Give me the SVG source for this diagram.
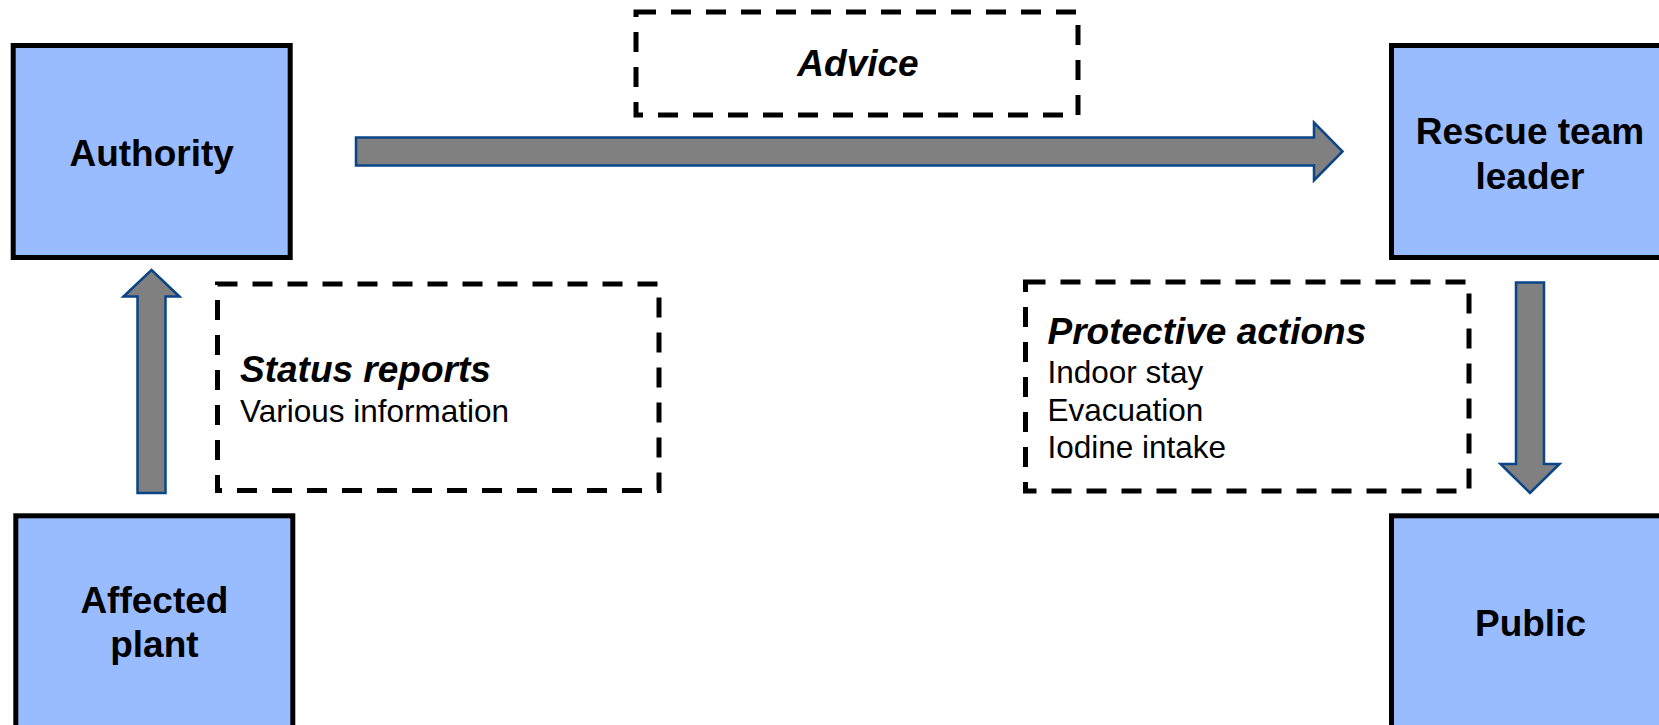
<svg xmlns="http://www.w3.org/2000/svg" width="1659" height="725" viewBox="0 0 1659 725">
  <style>
    .node { fill: #99BBFF; stroke: #000000; stroke-width: 5; }
    .label { font-family: "Liberation Sans", Arial, sans-serif; font-weight: bold; font-size: 37px; fill: #000000; text-anchor: middle; }
    .note { fill: none; stroke: #000000; stroke-width: 5; stroke-dasharray: 20 15; }
    .head { font-family: "Liberation Sans", Arial, sans-serif; font-weight: bold; font-style: italic; font-size: 37px; fill: #000000; }
    .body { font-family: "Liberation Sans", Arial, sans-serif; font-size: 31.5px; fill: #000000; }
    .arrow { fill: #808080; stroke: #0A4587; stroke-width: 2.5; stroke-linejoin: miter; }
  </style>
  <rect width="1659" height="725" fill="#FFFFFF"/>

  <g id="authority">
    <rect class="node" x="13.2" y="45.5" width="277" height="212"/>
    <text class="label" x="151.7" y="165.5">Authority</text>
  </g>

  <g id="rescue-team-leader">
    <rect class="node" x="1391.5" y="45.5" width="277" height="212"/>
    <text class="label" x="1530" y="143.5">Rescue team</text>
    <text class="label" x="1530" y="188.5">leader</text>
  </g>

  <g id="affected-plant">
    <rect class="node" x="15.8" y="515.8" width="277" height="215"/>
    <text class="label" x="154.4" y="612.7">Affected</text>
    <text class="label" x="154.4" y="656.7">plant</text>
  </g>

  <g id="public">
    <rect class="node" x="1391.5" y="515.8" width="277" height="215"/>
    <text class="label" x="1530.5" y="635.5">Public</text>
  </g>

  <g id="advice">
    <rect class="note" x="636" y="12" width="442" height="103"/>
    <text class="head" x="858" y="76" text-anchor="middle">Advice</text>
  </g>

  <g id="status-reports">
    <rect class="note" x="217.5" y="284" width="441.5" height="206.5"/>
    <text class="head" x="240" y="382">Status reports</text>
    <text class="body" x="240" y="422">Various information</text>
  </g>

  <g id="protective-actions">
    <rect class="note" x="1025.5" y="282" width="443.5" height="209"/>
    <text class="head" x="1047.5" y="343.5">Protective actions</text>
    <text class="body" x="1047.5" y="383">Indoor stay</text>
    <text class="body" x="1047.5" y="420.5">Evacuation</text>
    <text class="body" x="1047.5" y="458">Iodine intake</text>
  </g>

  <g id="connectors">
    <path class="arrow" d="M356,137.5 H1314 V122.5 L1342.5,151.5 L1314,180.5 V165.5 H356 Z"/>
    <path class="arrow" d="M137.5,493 V296.5 H123.5 L151.5,270 L179.5,296.5 H165.5 V493 Z"/>
    <path class="arrow" d="M1516,282.5 H1544 V464 H1559.5 L1530,493 L1500.5,464 H1516 Z"/>
  </g>
</svg>
